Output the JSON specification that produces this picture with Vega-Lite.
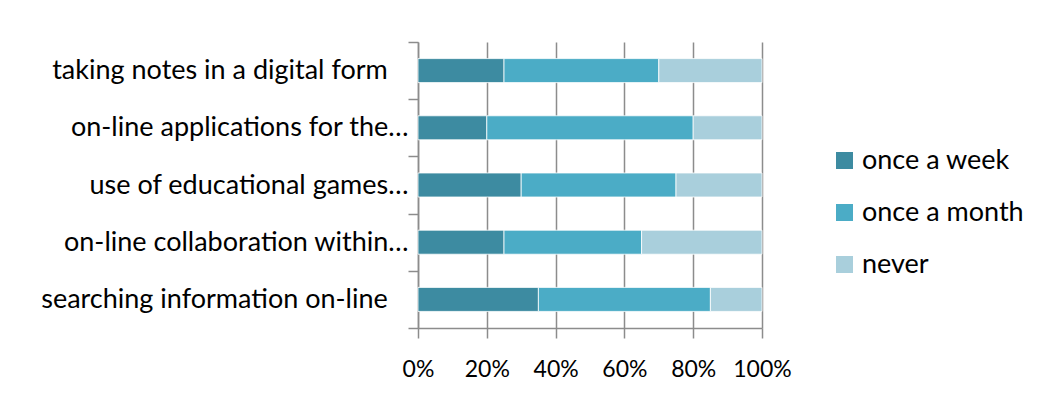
{
  "$schema": "https://vega.github.io/schema/vega-lite/v6.json",
  "width": 344,
  "height": 286,
  "autosize": {"type": "none"},
  "padding": {"left": 418, "top": 42, "right": 284, "bottom": 80},
  "background": "white",
  "config": {
    "font": "Lato",
    "view": {"stroke": null},
    "axis": {"labelFont": "Lato", "labelColor": "#000000", "domainColor": "#8c8c8c", "tickColor": "#8c8c8c", "gridColor": "#8c8c8c", "domainWidth": 1.5, "tickWidth": 1.5, "gridWidth": 1.5},
    "legend": {"labelFont": "Lato", "labelFontSize": 27, "labelColor": "#000000"}
  },
  "data": {
    "values": [
      {"activity": "taking notes in a digital form", "frequency": "once a week", "order": 1, "share": 25},
      {"activity": "taking notes in a digital form", "frequency": "once a month", "order": 2, "share": 45},
      {"activity": "taking notes in a digital form", "frequency": "never", "order": 3, "share": 30},
      {"activity": "on-line applications for the…", "frequency": "once a week", "order": 1, "share": 20},
      {"activity": "on-line applications for the…", "frequency": "once a month", "order": 2, "share": 60},
      {"activity": "on-line applications for the…", "frequency": "never", "order": 3, "share": 20},
      {"activity": "use of educational games…", "frequency": "once a week", "order": 1, "share": 30},
      {"activity": "use of educational games…", "frequency": "once a month", "order": 2, "share": 45},
      {"activity": "use of educational games…", "frequency": "never", "order": 3, "share": 25},
      {"activity": "on-line collaboration within…", "frequency": "once a week", "order": 1, "share": 25},
      {"activity": "on-line collaboration within…", "frequency": "once a month", "order": 2, "share": 40},
      {"activity": "on-line collaboration within…", "frequency": "never", "order": 3, "share": 35},
      {"activity": "searching information on-line", "frequency": "once a week", "order": 1, "share": 35},
      {"activity": "searching information on-line", "frequency": "once a month", "order": 2, "share": 50},
      {"activity": "searching information on-line", "frequency": "never", "order": 3, "share": 15}
    ]
  },
  "mark": {"type": "bar", "height": {"band": 0.42}, "stroke": "white", "strokeWidth": 0.8},
  "encoding": {
    "y": {
      "field": "activity",
      "type": "nominal",
      "sort": ["taking notes in a digital form", "on-line applications for the…", "use of educational games…", "on-line collaboration within…", "searching information on-line"],
      "scale": {"paddingInner": 0, "paddingOuter": 0},
      "axis": {
        "title": null,
        "tickBand": "extent",
        "tickSize": 10,
        "labelPadding": 0,
        "labelLimit": 0,
        "labelFontSize": 27,
        "labelExpr": "indexof(datum.label, '…') < 0 ? datum.label + '\u00a0\u00a0\u00a0\u200b' : datum.label"
      }
    },
    "x": {
      "field": "share",
      "type": "quantitative",
      "stack": "normalize",
      "scale": {"domain": [0, 1], "nice": false},
      "axis": {"title": null, "values": [0, 0.2, 0.4, 0.6, 0.8, 1], "format": ".0%", "tickSize": 10, "labelPadding": 20, "labelFontSize": 23, "grid": true, "labelFlush": false}
    },
    "color": {
      "field": "frequency",
      "type": "nominal",
      "scale": {"domain": ["once a week", "once a month", "never"], "range": ["#3d8ba1", "#4bacc6", "#a9cfdc"]},
      "legend": {"title": null, "orient": "none", "legendX": 413, "legendY": 105, "symbolType": "square", "symbolSize": 289, "symbolStrokeWidth": 0, "rowPadding": 24, "labelOffset": 4, "labelLimit": 0}
    },
    "order": {"field": "order", "type": "quantitative"}
  }
}
